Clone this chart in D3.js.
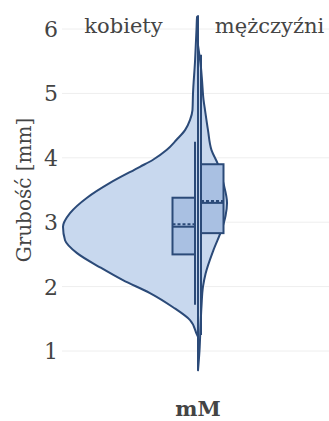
<!DOCTYPE html>
<html>
<head>
<meta charset="utf-8">
<script src="https://cdn.jsdelivr.net/npm/d3@7"></script>
<style>
  html, body { margin: 0; padding: 0; background: #fff; }
  svg { display: block; }
</style>
</head>
<body>
<svg id="chart" width="329" height="421"></svg>
<script>
// ---- data ----
const categories = ["mM"];
const sideLabels = ["kobiety", "mężczyźni"];
const yTicks = [1, 2, 3, 4, 5, 6];
const yTitle = "Grubość [mm]";

// kernel density outline, relative (max = 1)
const femaleValues  = [6.2, 6.19, 6.0, 5.5, 5.0, 4.74, 4.59, 4.43, 4.28, 4.12, 3.97, 3.86, 3.61, 3.38, 3.14, 2.93, 2.72, 2.52, 2.30, 2.10, 1.90, 1.68, 1.48, 1.25, 1.22];
const femaleDensity = [0, 0.007, 0.011, 0.022, 0.037, 0.041, 0.059, 0.096, 0.159, 0.233, 0.333, 0.43, 0.652, 0.822, 0.948, 1.0, 0.985, 0.896, 0.726, 0.556, 0.356, 0.185, 0.059, 0.007, 0];
const maleValues    = [5.75, 5.4, 5.2, 4.9, 4.74, 4.43, 4.12, 3.9, 3.6, 3.3, 3.1, 2.9, 2.57, 2.2, 2.0, 1.7, 1.4, 1.0, 0.7];
const maleDensity   = [0, 0.022, 0.03, 0.041, 0.052, 0.074, 0.1, 0.148, 0.189, 0.215, 0.204, 0.178, 0.115, 0.056, 0.037, 0.026, 0.019, 0.011, 0];

// box stats: [lower whisker, q1, median, q3, upper whisker]
const femaleStats = [1.72, 2.50, 2.93, 3.38, 4.25];
const femaleMean = 2.97;
const maleStats   = [1.25, 2.83, 3.30, 3.90, 5.60];
const maleMean = 3.33;

// ---- layout ----
const W = 329, H = 421;
const plot = { left: 62, right: 334, top: 29, bottom: 351 };
const lineColor = "#2b4a78";
const violinFill = "#c8d8ee";
const boxFill = "#a9c0e2";
const textColor = "#444";
const font = "'DejaVu Serif', serif";

const svg = d3.select("#chart");

const y = d3.scaleLinear().domain([1, 6]).range([plot.bottom, plot.top]);
const x = d3.scaleBand().domain(categories).range([plot.left, plot.right]).padding(0);
const wScale = d3.scaleLinear().domain([0, 1]).range([0, 135]);
const cx = x("mM") + x.bandwidth() / 2;

// gridlines
svg.append("g").selectAll("line").data(yTicks).join("line")
  .attr("x1", plot.left).attr("x2", W)
  .attr("y1", d => y(d)).attr("y2", d => y(d))
  .attr("stroke", "#eeeeee").attr("stroke-width", 1);

// y axis tick labels
svg.append("g").selectAll("text").data(yTicks).join("text")
  .attr("x", 58).attr("y", d => y(d))
  .attr("dy", "0.36em")
  .attr("text-anchor", "end")
  .attr("font-family", font).attr("font-size", 22)
  .attr("fill", textColor)
  .text(d => d);

// y title
svg.append("text")
  .attr("transform", `translate(31,${(plot.top + plot.bottom) / 2}) rotate(-90)`)
  .attr("text-anchor", "middle")
  .attr("font-family", font).attr("font-size", 20)
  .attr("fill", textColor)
  .text(yTitle);

// x category label
svg.append("text")
  .attr("x", cx).attr("y", 416)
  .attr("text-anchor", "middle")
  .attr("font-family", font).attr("font-size", 21).attr("font-weight", "bold")
  .attr("fill", textColor)
  .text(categories[0]);

// violins
function violin(values, dens, side) {
  const pts = values.map((v, i) => [v, dens[i]]);
  const area = d3.area()
    .y(d => y(d[0]))
    .x0(cx)
    .x1(d => cx + side * wScale(d[1]))
    .curve(d3.curveMonotoneY);
  svg.append("path")
    .attr("d", area(pts))
    .attr("fill", violinFill)
    .attr("stroke", lineColor)
    .attr("stroke-width", 2)
    .attr("stroke-linejoin", "round");
}
violin(femaleValues, femaleDensity, -1);
violin(maleValues, maleDensity, 1);

// boxes
function box(stats, mean, side) {
  const inner = cx + side * 3;
  const outer = cx + side * 25.5;
  const x0 = Math.min(inner, outer), x1 = Math.max(inner, outer);
  const g = svg.append("g");
  // whisker
  g.append("line")
    .attr("x1", inner).attr("x2", inner)
    .attr("y1", y(stats[0])).attr("y2", y(stats[4]))
    .attr("stroke", lineColor).attr("stroke-width", 2);
  g.append("rect")
    .attr("x", x0).attr("width", x1 - x0)
    .attr("y", y(stats[3])).attr("height", y(stats[1]) - y(stats[3]))
    .attr("fill", boxFill)
    .attr("stroke", lineColor).attr("stroke-width", 2);
  // median
  g.append("line")
    .attr("x1", x0).attr("x2", x1)
    .attr("y1", y(stats[2])).attr("y2", y(stats[2]))
    .attr("stroke", lineColor).attr("stroke-width", 2);
  // mean (dashed)
  g.append("line")
    .attr("x1", x0).attr("x2", x1)
    .attr("y1", y(mean)).attr("y2", y(mean))
    .attr("stroke", lineColor).attr("stroke-width", 2)
    .attr("stroke-dasharray", "3,2");
}
box(femaleStats, femaleMean, -1);
box(maleStats, maleMean, 1);

// side labels
svg.append("text")
  .attr("x", 123.5).attr("y", 33)
  .attr("text-anchor", "middle")
  .attr("font-family", font).attr("font-size", 21)
  .attr("fill", textColor)
  .text(sideLabels[0]);
svg.append("text")
  .attr("x", 269.5).attr("y", 33)
  .attr("text-anchor", "middle")
  .attr("font-family", font).attr("font-size", 21)
  .attr("fill", textColor)
  .text(sideLabels[1]);
</script>
</body>
</html>
